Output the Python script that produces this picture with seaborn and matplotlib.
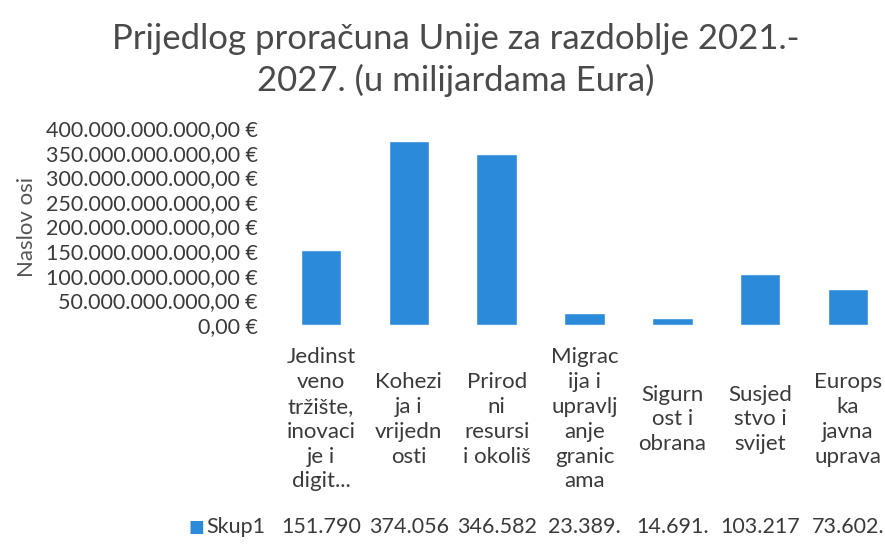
import numpy as np
import pandas as pd
import matplotlib
matplotlib.use("Agg")
import matplotlib.pyplot as plt
import matplotlib.transforms as mtransforms
import seaborn as sns

# Data
categories = [
    "Jedinstveno tržište, inovacije i digit...",
    "Kohezija i vrijednosti",
    "Prirodni resursi i okoliš",
    "Migracija i upravljanje granicama",
    "Sigurnost i obrana",
    "Susjedstvo i svijet",
    "Europska javna uprava",
]
category_labels = [
    "Jedinst\nveno\ntržište,\ninovaci\nje i\ndigit...",
    "Kohezi\nja i\nvrijedn\nosti",
    "Prirod\nni\nresursi\ni okoliš",
    "Migrac\nija i\nupravlj\nanje\ngranic\nama",
    "Sigurn\nost i\nobrana",
    "Susjed\nstvo i\nsvijet",
    "Europs\nka\njavna\nuprava",
]
values = [151_790_000_000, 374_056_000_000, 346_582_000_000, 23_389_000_000,
          14_691_000_000, 103_217_000_000, 73_602_000_000]
series_name = "Skup1"
y_ticks = [0, 50e9, 100e9, 150e9, 200e9, 250e9, 300e9, 350e9, 400e9]

BAR_COLOR = "#2B8AD9"
TEXT_COLOR = "#3A3A3A"


def eur(v):
    s = f"{v:,.2f}"
    s = s.replace(",", " ").replace(".", ",").replace(" ", ".")
    return s + " €"


df = pd.DataFrame({"kategorija": categories, "iznos": values})

sns.set_style("white")
plt.rcParams["font.family"] = ["Lato", "DejaVu Sans"]

fig = plt.figure(figsize=(8.85, 5.45), dpi=100)
ax = fig.add_axes([277 / 885, 1 - 325 / 545, 608 / 885, 197 / 545])

sns.barplot(data=df, x="kategorija", y="iznos", color=BAR_COLOR,
            width=0.46, saturation=1, ax=ax)

ax.set_xlim(-0.5, 6.42)
ax.set_ylim(0, 400e9)
ax.set_yticks(y_ticks)
ax.set_yticklabels([eur(t) for t in y_ticks], fontsize=15.5, color=TEXT_COLOR)
ax.set_xticks(range(len(categories)))
ax.set_xticklabels(category_labels, fontsize=16, color=TEXT_COLOR,
                   linespacing=1.3, va="center", ha="center")
ax.tick_params(axis="x", length=0, pad=68)
ax.tick_params(axis="y", length=0, pad=14)
ax.set_xlabel("")
ax.set_ylabel("Naslov osi", fontsize=16, color="#555555", labelpad=6)
for sp in ax.spines.values():
    sp.set_visible(False)

# data table row
trans = mtransforms.blended_transform_factory(ax.transData, ax.transAxes)
for i, v in enumerate(values):
    ax.text(i, -1.025, eur(v)[:7], transform=trans, ha="center", va="center",
            fontsize=15.5, color=TEXT_COLOR)
fig.text(188 / 885, 1 - 527 / 545, "■", fontsize=12, color=BAR_COLOR,
         va="center", ha="left")
fig.text(206 / 885, 1 - 527 / 545, series_name, fontsize=15.5, color=TEXT_COLOR,
         va="center", ha="left")

fig.text(0.515, 1 - 60 / 545,
         "Prijedlog proračuna Unije za razdoblje 2021.-\n2027. (u milijardama Eura)",
         ha="center", va="center", fontsize=25, color="#4A4A4A", linespacing=1.35)

fig.savefig("out.png", dpi=100)
